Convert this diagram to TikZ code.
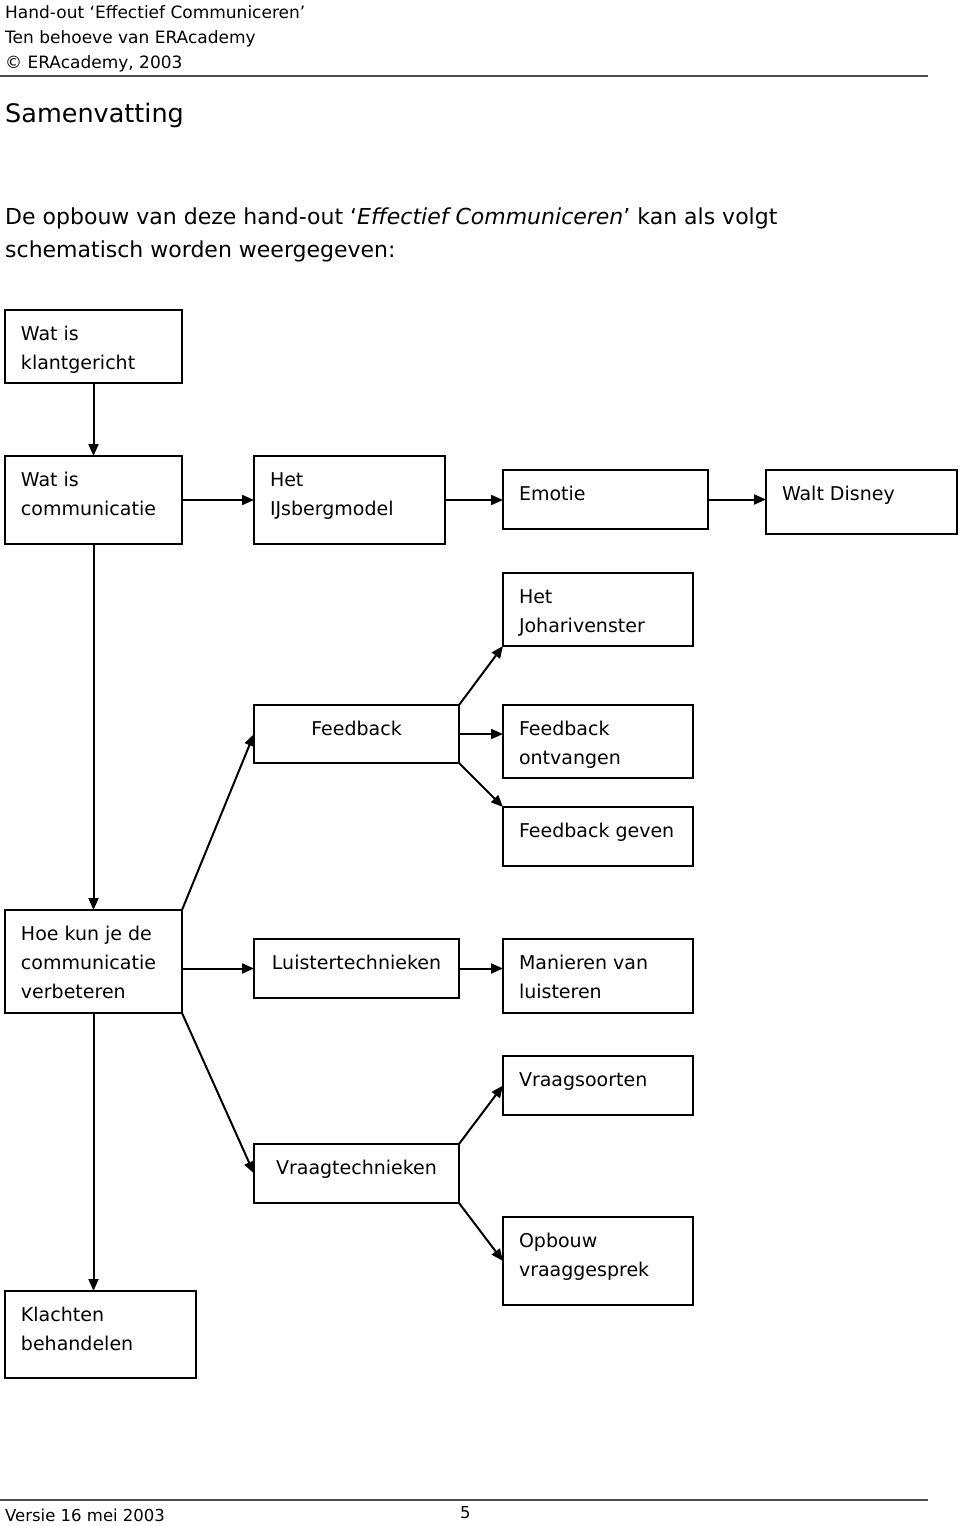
\documentclass[tikz,border=0pt]{standalone}
\usepackage{fontspec}
\setmainfont{DejaVu Sans}
\usetikzlibrary{arrows.meta,positioning}

% box texts: width, height, text
\newcommand\blt[3]{\parbox[c][#2pt][t]{#1pt}{\raggedright\leftskip=16pt\rule{0pt}{30pt}#3}}
\newcommand\blc[3]{\parbox[c][#2pt][t]{#1pt}{\centering\rule{0pt}{30pt}#3}}

\tikzset{
  blok/.style={draw, line width=2pt, anchor=north west, inner sep=0pt, outer sep=0pt,
    font=\fontsize{19}{29}\selectfont},
  pijl/.style={line width=2pt, -{Triangle[length=12pt,width=10pt]}},
  kop/.style={anchor=base west, inner sep=0pt},
}

\begin{document}
\begin{tikzpicture}[x=1pt,y=-1pt]
\useasboundingbox (0,0) rectangle (960,1526);

% header
\node (kop1) [kop, font=\fontsize{17}{18}\selectfont] at (5,18) {Hand-out ‘Effectief Communiceren’};
\node (kop2) [kop, font=\fontsize{17}{18}\selectfont] at (5,43) {Ten behoeve van ERAcademy};
\node (kop3) [kop, font=\fontsize{17}{18}\selectfont] at (5,68) {© ERAcademy, 2003};
\draw[black!70, line width=1.5pt] (0,76) -- (928,76);
\node (titel) [kop, font=\fontsize{25.5}{30}\selectfont] at (5,122) {Samenvatting};
\node (intro1) [kop, font=\fontsize{22}{29}\selectfont] at (5,224)
  {De opbouw van deze hand-out ‘\textit{Effectief Communiceren}’ kan als volgt};
\node (intro2) [kop, font=\fontsize{22}{29}\selectfont] at (5,257) {schematisch worden weergegeven:};

% boxes
\node (klant) [blok] at (5,310) {\blt{177}{73}{Wat is\\klantgericht}};
\node (comm) [blok] at (5,456) {\blt{177}{88}{Wat is\\communicatie}};
\node (ijsberg) [blok] at (254,456) {\blt{191}{88}{Het\\IJsbergmodel}};
\node (emotie) [blok] at (503,470) {\blt{205}{59}{Emotie}};
\node (disney) [blok] at (766,470) {\blt{191}{64}{Walt Disney}};
\node (johari) [blok] at (503,573) {\blt{190}{73}{Het\\Joharivenster}};
\node (feedback) [blok] at (254,705) {\blc{205}{58}{Feedback}};
\node (ontvangen) [blok] at (503,705) {\blt{190}{73}{Feedback\\ontvangen}};
\node (geven) [blok] at (503,807) {\blt{190}{59}{Feedback geven}};
\node (hoekun) [blok] at (5,910) {\blt{177}{103}{Hoe kun je de\\communicatie\\verbeteren}};
\node (luister) [blok] at (254,939) {\blc{205}{59}{Luistertechnieken}};
\node (manieren) [blok] at (503,939) {\blt{190}{74}{Manieren van\\luisteren}};
\node (vraagsoort) [blok] at (503,1056) {\blt{190}{59}{Vraagsoorten}};
\node (vraagtech) [blok] at (254,1144) {\blc{205}{59}{Vraagtechnieken}};
\node (opbouw) [blok] at (503,1217) {\blt{190}{88}{Opbouw\\vraaggesprek}};
\node (klachten) [blok] at (5,1291) {\blt{191}{87}{Klachten\\behandelen}};

% connectors
\draw[pijl] (klant.south) -- (comm.north);
\draw[pijl] (comm.east) -- (ijsberg.west);
\draw[pijl] (ijsberg.east) -- (ijsberg.east -| emotie.west);
\draw[pijl] (emotie.east) -- (emotie.east -| disney.west);
\draw[pijl] (comm.south) -- (hoekun.north);
\draw[pijl] (hoekun.north east) -- (feedback.west);
\draw[pijl] (feedback.north east) -- (johari.south west);
\draw[pijl] (feedback.east) -- (feedback.east -| ontvangen.west);
\draw[pijl] (feedback.south east) -- (geven.north west);
\draw[pijl] (luister.west -| hoekun.east) -- (luister.west);
\draw[pijl] (luister.east) -- (luister.east -| manieren.west);
\draw[pijl] (hoekun.south east) -- (vraagtech.west);
\draw[pijl] (vraagtech.north east) -- (vraagsoort.west);
\draw[pijl] (vraagtech.south east) -- (opbouw.west);
\draw[pijl] (hoekun.south) -- (hoekun.south |- klachten.north);

% footer
\draw[black!70, line width=1.5pt] (0,1500) -- (928,1500);
\node (versie) [kop, font=\fontsize{16.5}{18}\selectfont] at (5,1521) {Versie 16 mei 2003};
\node (pagina) [kop, font=\fontsize{16.5}{18}\selectfont] at (460,1518) {5};
\end{tikzpicture}
\end{document}
